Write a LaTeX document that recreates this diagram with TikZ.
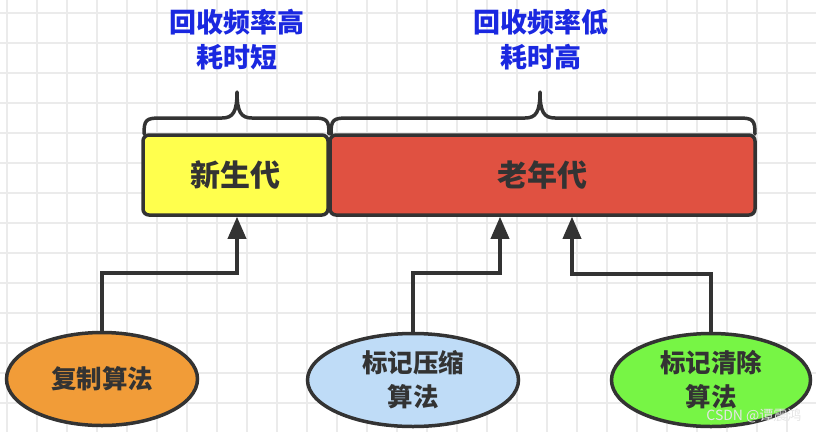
\documentclass[tikz,border=0pt]{standalone}
\usepackage{fontspec}
\newfontfamily\cjk{Noto Sans CJK SC}
\usetikzlibrary{shapes.geometric,arrows.meta}
\definecolor{ink}{HTML}{333333}
\definecolor{gridc}{HTML}{EBEBEB}
\definecolor{bluet}{HTML}{1A28E0}
\definecolor{yel}{HTML}{FFFF4D}
\definecolor{redc}{HTML}{E05141}
\definecolor{ora}{HTML}{F19C38}
\definecolor{lblue}{HTML}{BFDCF7}
\definecolor{grn}{HTML}{77F545}
\tikzset{
  gen/.style={draw=ink,line width=3.5pt,rounded corners=6pt,minimum height=80pt,inner sep=0pt,
    font=\cjk\bfseries\fontsize{30}{34}\selectfont,text=ink},
  algo/.style={ellipse,draw=ink,line width=3.5pt,inner sep=0pt,minimum height=93pt,
    font=\cjk\bfseries\fontsize{25.5}{34}\selectfont,text=ink,align=center},
  note/.style={font=\cjk\bfseries\fontsize{27}{35}\selectfont,text=bluet,align=center},
  conn/.style={draw=ink,line width=3.5pt,-{Triangle[length=22pt,width=18pt]}},
  brace/.style={draw=ink,line width=3.5pt,line cap=round,line join=round}
}
\begin{document}
\begin{tikzpicture}[x=1pt,y=-1pt]
\useasboundingbox (0,0) rectangle (816,432);
\fill[white] (0,0) rectangle (816,432);
% grid
\foreach \gx in {7,37,...,816} \draw[gridc,line width=1.5pt] (\gx,0) -- (\gx,432);
\foreach \gy in {13,43,...,432} \draw[gridc,line width=1.5pt] (0,\gy) -- (816,\gy);
% boxes
\node[gen,fill=yel,minimum width=185pt] (young) at (235.5,175) {新生代};
\node[gen,fill=redc,minimum width=425pt] (old) at (542.5,175) {老年代};
% braces
\draw[brace] (144,134) .. controls (144,120) and (146,118) .. (160,118) -- (222,118)
  .. controls (233,118) and (237,112) .. (237,92)
  .. controls (237,112) and (241,118) .. (252,118) -- (313,118)
  .. controls (327,118) and (329,120) .. (329,134);
\draw[brace] (331,134) .. controls (331,120) and (333,118) .. (347,118) -- (525,118)
  .. controls (536,118) and (540,112) .. (540,92)
  .. controls (540,112) and (544,118) .. (555,118) -- (739,118)
  .. controls (753,118) and (755,120) .. (755,134);
% notes
\node[note] (n1) at (237,40) {回收频率高\\耗时短};
\node[note] (n2) at (541,40) {回收频率低\\耗时高};
% algorithms
\node[algo,fill=ora,minimum width=191pt] (copy) at (102,379) {复制算法};
\node[algo,fill=lblue,minimum width=211pt] (mc) at (413,380) {标记压缩\\算法};
\node[algo,fill=grn,minimum width=199pt] (ms) at (711,380) {标记清除\\算法};
% connectors
\coordinate (b1) at (237,273);
\coordinate (b2) at (500,273);
\coordinate (b3) at (572,274);
\draw[conn] (copy.north) |- (b1) -- (b1 |- young.south);
\draw[conn] (mc.north) |- (b2) -- (b2 |- old.south);
\draw[conn] (ms.north) |- (b3) -- (b3 |- old.south);
% watermark
\node[font=\cjk\fontsize{14}{16}\selectfont,text=white!80!gray,anchor=east] (wm) at (805,416) {CSDN @谭震鸿};
\end{tikzpicture}
\end{document}
